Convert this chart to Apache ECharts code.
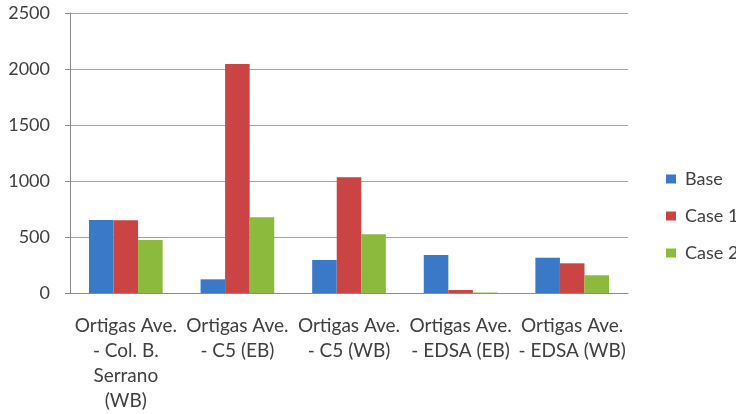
<!DOCTYPE html>
<html>
<head>
<meta charset="utf-8">
<script src="https://cdn.jsdelivr.net/npm/echarts@6/dist/echarts.min.js"></script>
<style>
  html, body { margin: 0; padding: 0; background: #fff; }
  #chart { width: 736px; height: 414px; }
</style>
</head>
<body>
<div id="chart"></div>
<script>
const categories = [
  'Ortigas Ave.\n- Col. B.\nSerrano\n(WB)',
  'Ortigas Ave.\n- C5 (EB)',
  'Ortigas Ave.\n- C5 (WB)',
  'Ortigas Ave.\n- EDSA (EB)',
  'Ortigas Ave.\n- EDSA (WB)',
];
const baseValues = [652, 122, 295, 339, 315];
const case1Values = [650, 2045, 1033, 27, 265];
const case2Values = [473, 676, 524, 4, 158];
const yTicks = [0, 500, 1000, 1500, 2000, 2500];

const font = 'Lato, "Open Sans", sans-serif';
const chart = echarts.init(document.getElementById('chart'));

function bar(name, data, color) {
  return {
    name,
    type: 'bar',
    data,
    barGap: 0,
    barCategoryGap: '34%',
    itemStyle: { color },
  };
}

chart.setOption({
  animation: false,
  textStyle: { fontFamily: font },
  grid: { left: 70, right: 108, top: 13, bottom: 121 },
  legend: {
    orient: 'vertical',
    left: 661,
    top: 165,
    itemWidth: 10,
    itemHeight: 9,
    itemGap: 19,
    icon: 'rect',
    textStyle: { fontFamily: font, fontSize: 18, color: '#404040', padding: [0, 0, 0, 4] },
    data: ['Base', 'Case 1', 'Case 2'],
  },
  xAxis: {
    type: 'category',
    data: categories,
    axisLine: { lineStyle: { color: '#8c8c8c' } },
    axisTick: { length: 4, lineStyle: { color: '#8c8c8c' } },
    axisLabel: {
      interval: 0,
      margin: 20,
      fontSize: 19,
      lineHeight: 25,
      color: '#404040',
      fontFamily: font,
    },
  },
  yAxis: {
    type: 'value',
    min: yTicks[0],
    max: yTicks[yTicks.length - 1],
    interval: 500,
    axisLine: { show: true, lineStyle: { color: '#8c8c8c' } },
    axisTick: { show: true, length: 5, lineStyle: { color: '#8c8c8c' } },
    splitLine: { lineStyle: { color: '#a6a6a6' } },
    axisLabel: {
      margin: 20,
      fontSize: 18,
      color: '#404040',
      fontFamily: font,
      formatter: (v) => String(v),
    },
  },
  series: [
    bar('Base', baseValues, '#3a78c8'),
    bar('Case 1', case1Values, '#c94442'),
    bar('Case 2', case2Values, '#8cba3c'),
  ],
});
</script>
</body>
</html>
